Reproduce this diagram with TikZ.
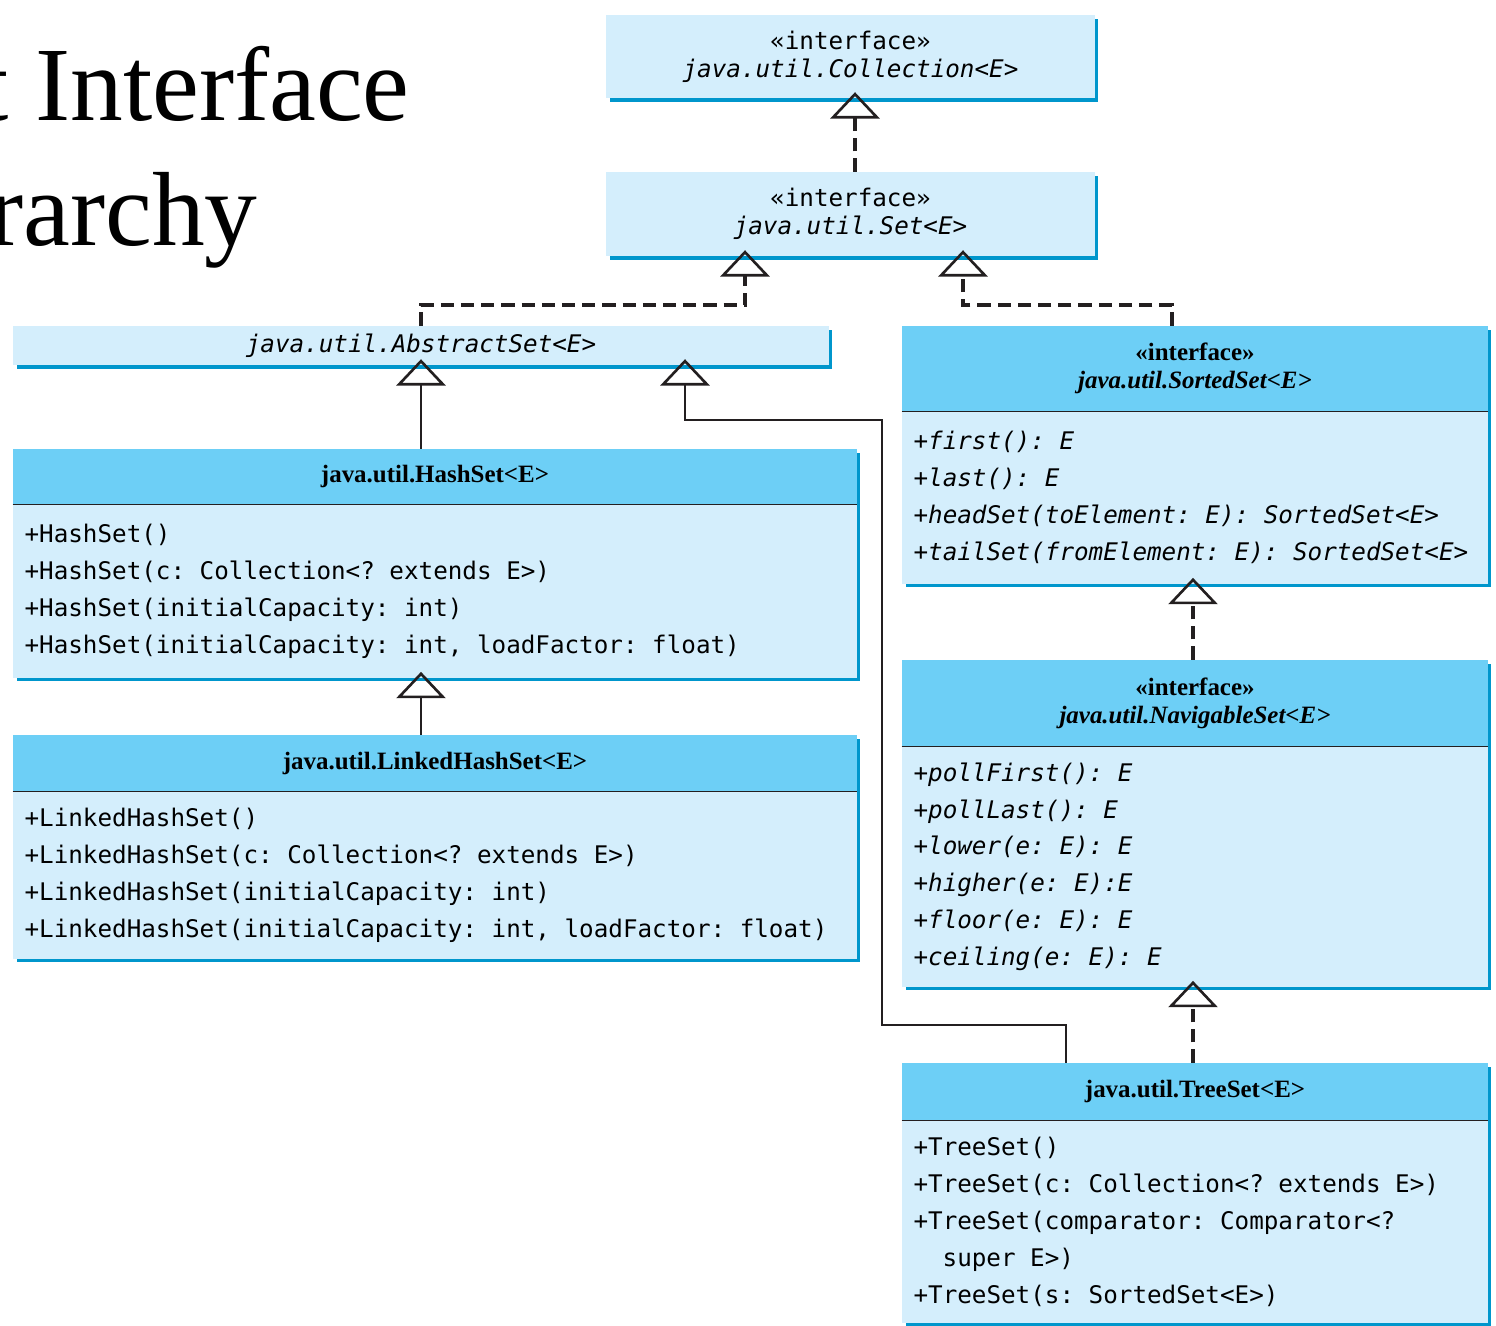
\documentclass[tikz,border=0pt]{standalone}
\usepackage{fontspec}
\setmainfont{Liberation Serif}
\newfontfamily\codefont{DejaVu Sans Mono}
\definecolor{umlhead}{RGB}{109, 207, 246}
\definecolor{umlbody}{RGB}{212, 238, 252}
\definecolor{umlshadow}{RGB}{0, 150, 204}
\definecolor{umlline}{RGB}{35, 31, 32}
\usetikzlibrary{arrows.meta, positioning, shadows}

\tikzset{
  umlbox/.style={fill=umlbody, inner sep=0pt, drop shadow={fill=umlshadow, opacity=1, shadow xshift=2pt, shadow yshift=-2pt}},
  headbox/.style={umlbox, fill=umlhead, align=center, font=\fontsize{14.2}{15.9}\selectfont\bfseries},
  codehead/.style={umlbox, align=center, font=\codefont\fontsize{13.8}{15.9}\selectfont},
  codebody/.style={umlbox, inner xsep=0.23cm, align=flush left, font=\codefont\fontsize{13.8}{21}\selectfont\frenchspacing},
  realize/.style={umlline, line width=1.9pt, dash pattern=on 7.5pt off 4pt, shorten >=-3.5pt,
    -{Triangle[open, width=28pt, length=15pt, line width=1.5pt]}},
  inherit/.style={umlline, line width=1.1pt, shorten >=-3.5pt,
    -{Triangle[open, width=28pt, length=15pt, line width=1.5pt]}}
}

\begin{document}
\begin{tikzpicture}[x=0.02cm, y=-0.02cm]
  \useasboundingbox (0,0) rectangle (1496,1325);

  % slide title, cut at the left edge
  \node[font=\fontsize{60}{72}\selectfont, anchor=base east, inner sep=0pt] (titleTop) at (410,120) {t Interface};
  \node[font=\fontsize{60}{72}\selectfont, anchor=base east, inner sep=0pt] (titleBottom) at (258,245) {rarchy};

  % Collection, Set, AbstractSet
  \node[codehead, minimum width=9.78cm, minimum height=1.66cm] (collBox) at (850.5,56.5) {«interface»\\\textit{java.util.Collection<E>}};
  \node[codehead, minimum width=9.78cm, minimum height=1.68cm] (setBox) at (850.5,214) {«interface»\\\textit{java.util.Set<E>}};
  \node[codehead, minimum width=16.32cm, minimum height=0.78cm] (absBox) at (421,345.5) {\textit{java.util.AbstractSet<E>}};

  % SortedSet
  \node[headbox, minimum width=11.72cm, minimum height=1.7cm] (sortedHead) at (1195,368.5) {«interface»\\\textit{java.util.SortedSet<E>}};
  \node[codebody, text width=11.26cm, minimum height=3.44cm, below=0pt of sortedHead] (sortedBody) {\itshape
    +first(): E\\
    +last(): E\\
    +headSet(toElement: E): SortedSet<E>\\
    +tailSet(fromElement: E): SortedSet<E>};

  % HashSet
  \node[headbox, minimum width=16.88cm, minimum height=1.1cm] (hashHead) at (435,476.5) {java.util.HashSet<E>};
  \node[codebody, text width=16.42cm, minimum height=3.46cm, below=0pt of hashHead] (hashBody) {
    +HashSet()\\
    +HashSet(c: Collection<? extends E>)\\
    +HashSet(initialCapacity: int)\\
    +HashSet(initialCapacity: int, loadFactor: float)};

  % LinkedHashSet
  \node[headbox, minimum width=16.88cm, minimum height=1.12cm] (linkedHead) at (435,763) {java.util.LinkedHashSet<E>};
  \node[codebody, text width=16.42cm, minimum height=3.34cm, below=0pt of linkedHead] (linkedBody) {
    +LinkedHashSet()\\
    +LinkedHashSet(c: Collection<? extends E>)\\
    +LinkedHashSet(initialCapacity: int)\\
    +LinkedHashSet(initialCapacity: int, loadFactor: float)};

  % NavigableSet
  \node[headbox, minimum width=11.72cm, minimum height=1.72cm] (navHead) at (1195,703) {«interface»\\\textit{java.util.NavigableSet<E>}};
  \node[codebody, text width=11.26cm, minimum height=4.8cm, below=0pt of navHead] (navBody) {\itshape
    +pollFirst(): E\\
    +pollLast(): E\\
    +lower(e: E): E\\
    +higher(e: E):E\\
    +floor(e: E): E\\
    +ceiling(e: E): E};

  % TreeSet
  \node[headbox, minimum width=11.72cm, minimum height=1.14cm] (treeHead) at (1195,1091.5) {java.util.TreeSet<E>};
  \node[codebody, text width=11.26cm, minimum height=4.04cm, below=0pt of treeHead] (treeBody) {
    +TreeSet()\\
    +TreeSet(c: Collection<? extends E>)\\
    +TreeSet(comparator: Comparator<?\\
    \hspace*{1.2em}super E>)\\
    +TreeSet(s: SortedSet<E>)};

  % lines under the class names
  \draw[umlline, line width=0.8pt] (sortedHead.south west) -- (sortedHead.south east);
  \draw[umlline, line width=0.8pt] (hashHead.south west) -- (hashHead.south east);
  \draw[umlline, line width=0.8pt] (linkedHead.south west) -- (linkedHead.south east);
  \draw[umlline, line width=0.8pt] (navHead.south west) -- (navHead.south east);
  \draw[umlline, line width=0.8pt] (treeHead.south west) -- (treeHead.south east);

  % implements (dashed) and extends (solid)
  \draw[realize] (setBox.north -| 855,0) -- (collBox.south -| 855,0);
  \draw[realize] (absBox.north) |- (745,305) -- (setBox.south -| 745,0);
  \draw[realize] (sortedHead.north -| 1172,0) |- (963,305) -- (setBox.south -| 963,0);
  \draw[realize] (navHead.north -| 1193,0) -- (sortedBody.south -| 1193,0);
  \draw[realize] (treeHead.north -| 1193,0) -- (navBody.south -| 1193,0);
  \draw[inherit] (hashHead.north -| absBox.south) -- (absBox.south);
  \draw[inherit] (linkedHead.north -| absBox.south) -- (hashBody.south -| absBox.south);
  \draw[inherit] (treeHead.north -| 1066,0) |- (882,1025) |- (685,420) -- (absBox.south -| 685,0);
\end{tikzpicture}
\end{document}
